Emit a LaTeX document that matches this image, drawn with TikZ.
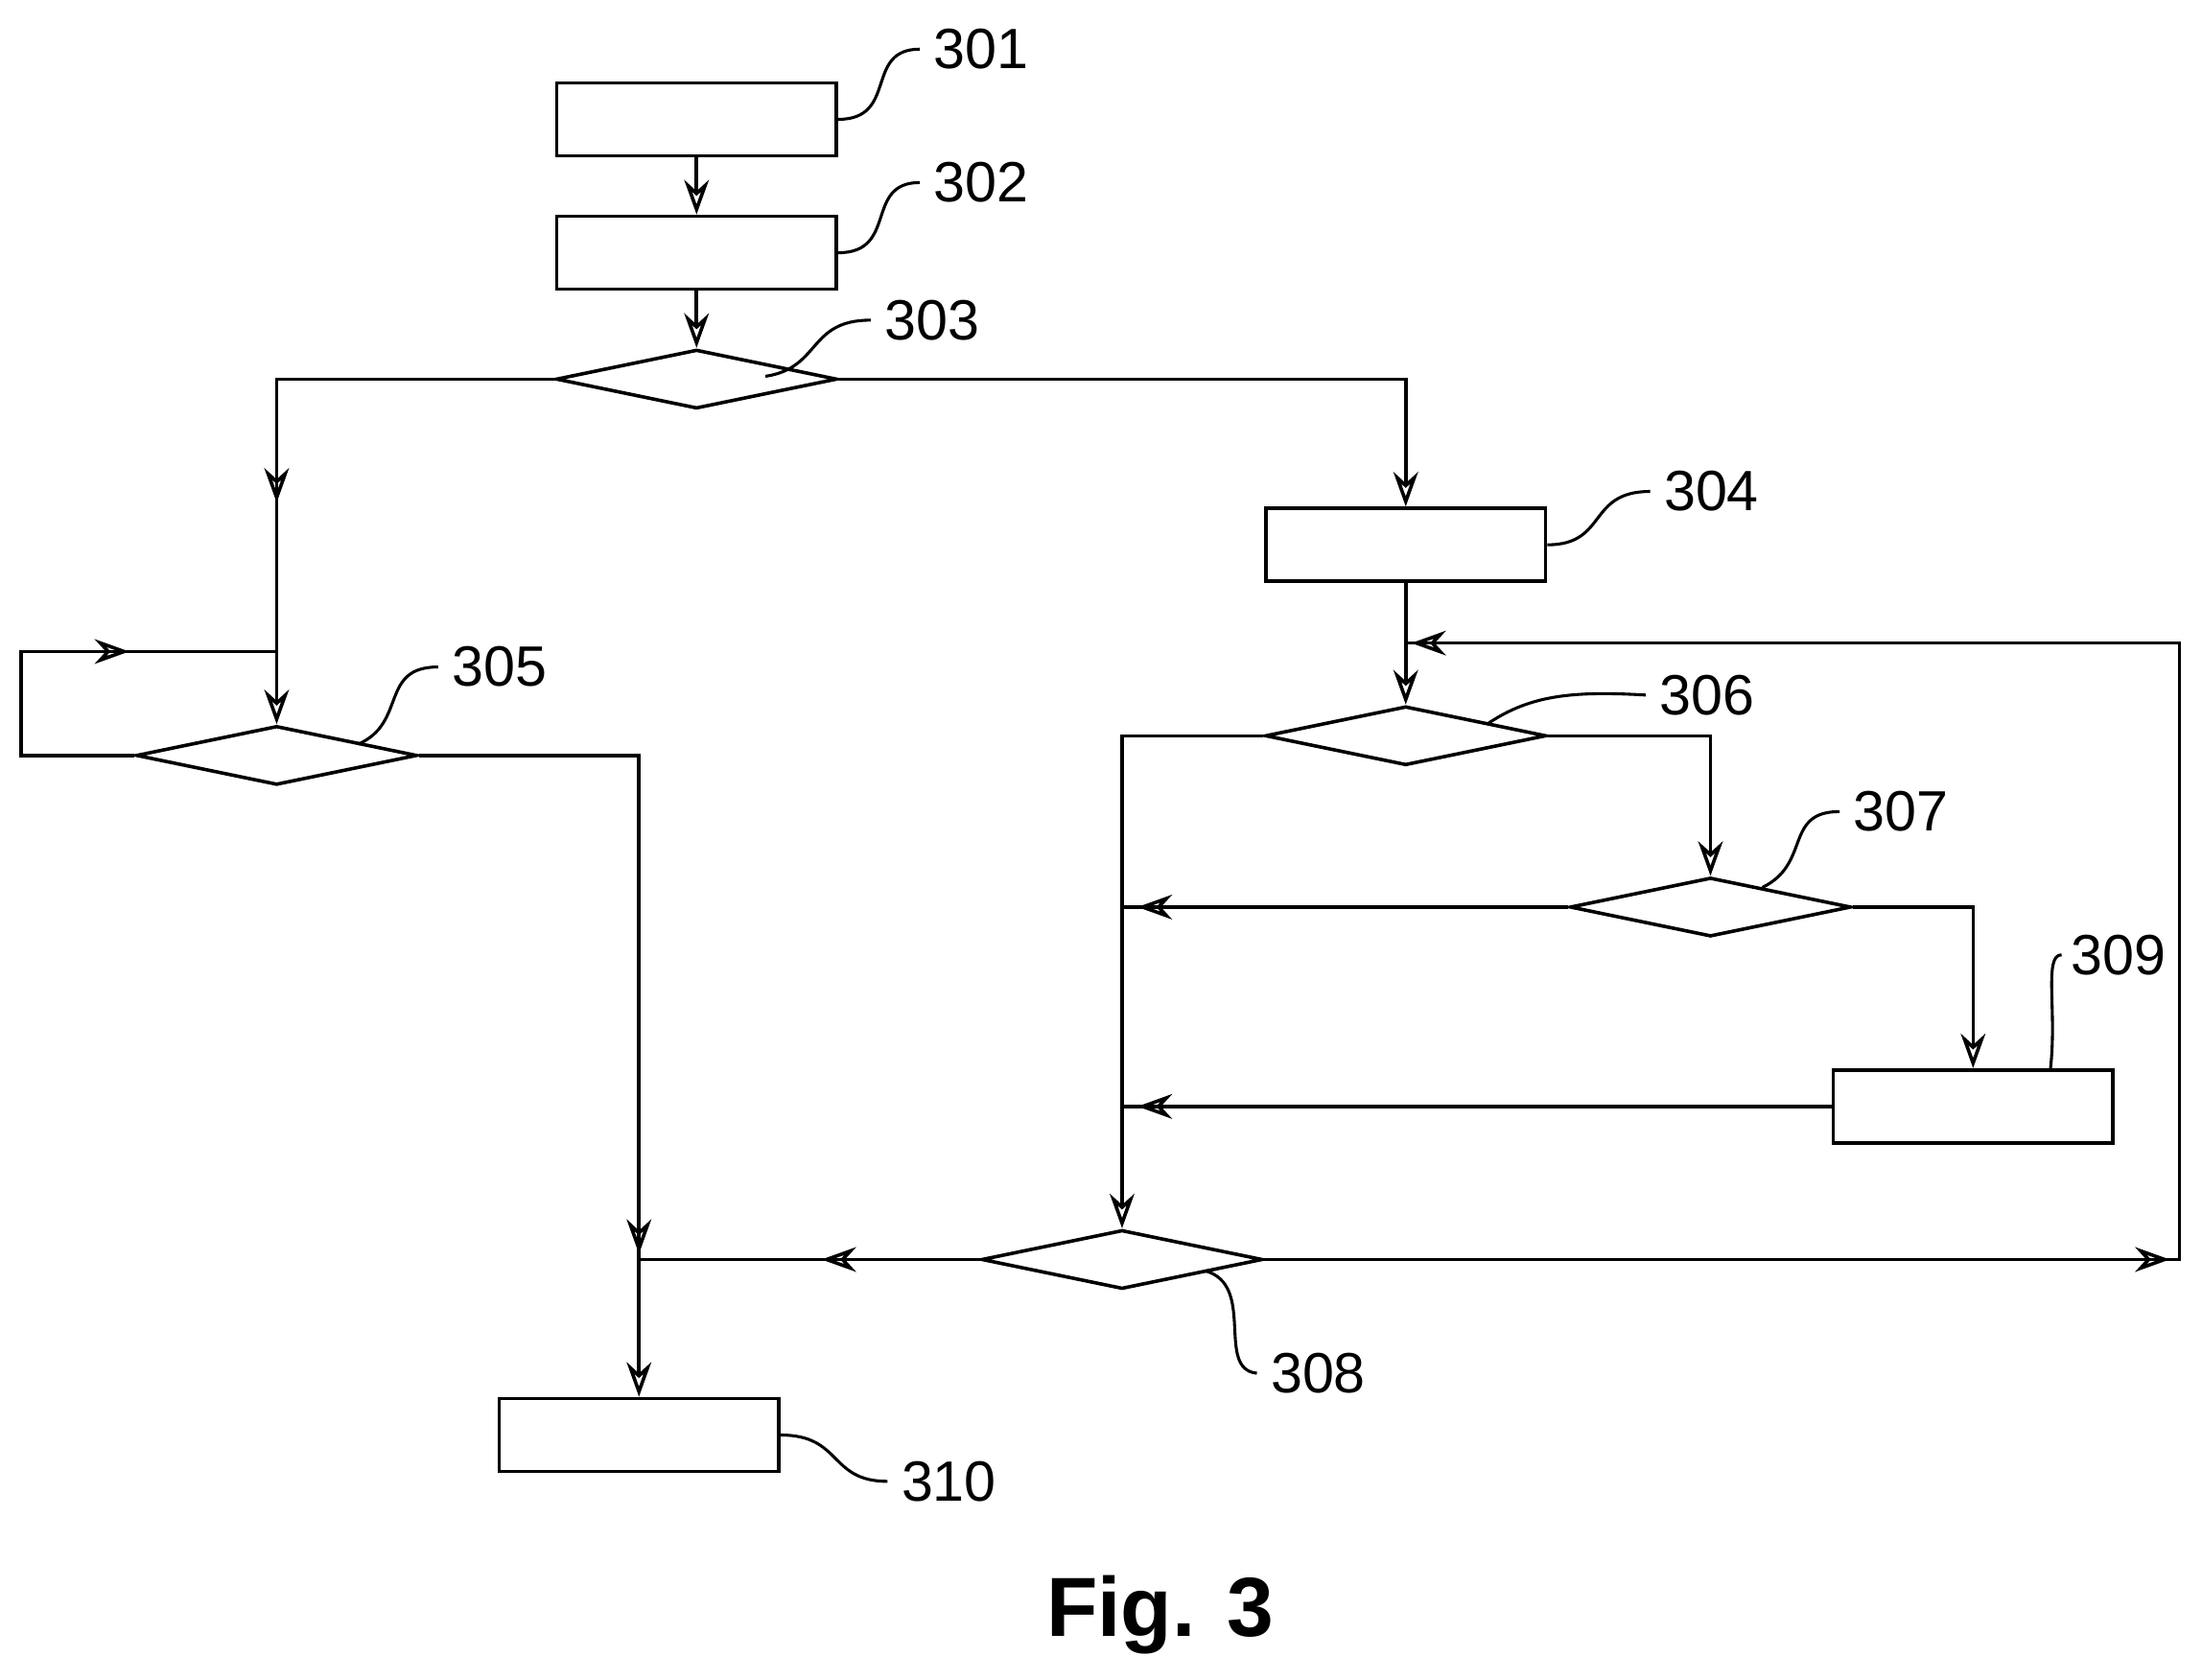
\documentclass[tikz,border=0pt]{standalone}
\usepackage{fontspec}
\setmainfont{Liberation Sans}
\usetikzlibrary{shapes.geometric,arrows.meta}
\begin{document}
\begin{tikzpicture}[x=0.01cm,y=-0.01cm,line width=0.7pt,
  box/.style={draw,minimum width=1.99cm,minimum height=0.52cm,inner sep=0},
  dia/.style={draw,diamond,aspect=4.8,minimum width=2cm,minimum height=0.42cm,inner sep=0},
  arr/.style={-{Stealth[open,length=7pt,width=5pt]}},
  lab/.style={anchor=west,font=\fontsize{11.5}{12}\selectfont},
  lead/.style={line width=0.6pt}]
\useasboundingbox (0,0) rectangle (1568,1196);
\node[box] (n301) at (496,85) {};
\node[box] (n302) at (496,180) {};
\node[dia] (n303) at (496,270) {};
\node[box] (n304) at (1001,388) {};
\node[dia] (n305) at (197,538) {};
\node[dia] (n306) at (1001,524) {};
\node[dia] (n307) at (1218,646) {};
\node[box] (n309) at (1405,788) {};
\node[dia] (n308) at (799,897) {};
\node[box] (n310) at (455,1022) {};
\coordinate (j1) at (799,646);
\coordinate (j2) at (799,788);
\coordinate (j3) at (455,897);
\coordinate (j4) at (1001,458);
\draw[arr] (n301) -- (n302);
\draw[arr] (n302) -- (n303);
\draw[arr] (n303.west) -| (n305.north);
\draw[arr] (197,340) -- (197,358);
\draw[arr] (n303.east) -| (n304.north);
\draw (n305.west) -- (15,538) -- (15,464) -- (197,464);
\draw[arr] (70,464) -- (92,464);
\draw[arr] (n305.east) -| (n310.north);
\draw[arr] (455,875) -- (455,893);
\draw[arr] (n304.south) -- (n306.north);
\draw[arr] (n306.west) -| (n308.north);
\draw[arr] (n306.east) -| (n307.north);
\draw (n307.west) -- (j1);
\draw[arr] (830,646) -- (810,646);
\draw[arr] (n307.east) -| (n309.north);
\draw (n309.west) -- (j2);
\draw[arr] (830,788) -- (810,788);
\draw (n308.west) -- (j3);
\draw[arr] (610,897) -- (585,897);
\draw (n308.east) -- (1552,897) -- (1552,458) -- (j4);
\draw[arr] (1520,897) -- (1545,897);
\draw[arr] (1030,458) -- (1005,458);
\draw[lead] (n301.east) .. controls (640,85) and (615,35) .. (655,35);
\node[lab] at (652,35) {301};
\draw[lead] (n302.east) .. controls (640,180) and (615,130) .. (655,130);
\node[lab] at (652,130) {302};
\draw[lead] (545,268) .. controls (585,262) and (575,228) .. (620,228);
\node[lab] at (617,228) {303};
\draw[lead] (n304.east) .. controls (1145,388) and (1130,350) .. (1175,350);
\node[lab] at (1172,350) {304};
\draw[lead] (255,530) .. controls (290,515) and (270,475) .. (312,475);
\node[lab] at (309,475) {305};
\draw[lead] (1060,515) .. controls (1090,495) and (1120,492) .. (1172,495);
\node[lab] at (1169,495) {306};
\draw[lead] (1255,632) .. controls (1290,615) and (1270,578) .. (1310,578);
\node[lab] at (1307,578) {307};
\draw[lead] (858,905) .. controls (895,915) and (865,975) .. (895,978);
\node[lab] at (892,978) {308};
\draw[lead] (1460,762) .. controls (1465,720) and (1455,680) .. (1468,680);
\node[lab] at (1462,680) {309};
\draw[lead] (n310.east) .. controls (600,1022) and (590,1055) .. (632,1055);
\node[lab] at (629,1055) {310};
\node[font=\fontsize{17}{17}\selectfont\bfseries] (fig) at (826,1150) {Fig. 3};
\end{tikzpicture}
\end{document}
